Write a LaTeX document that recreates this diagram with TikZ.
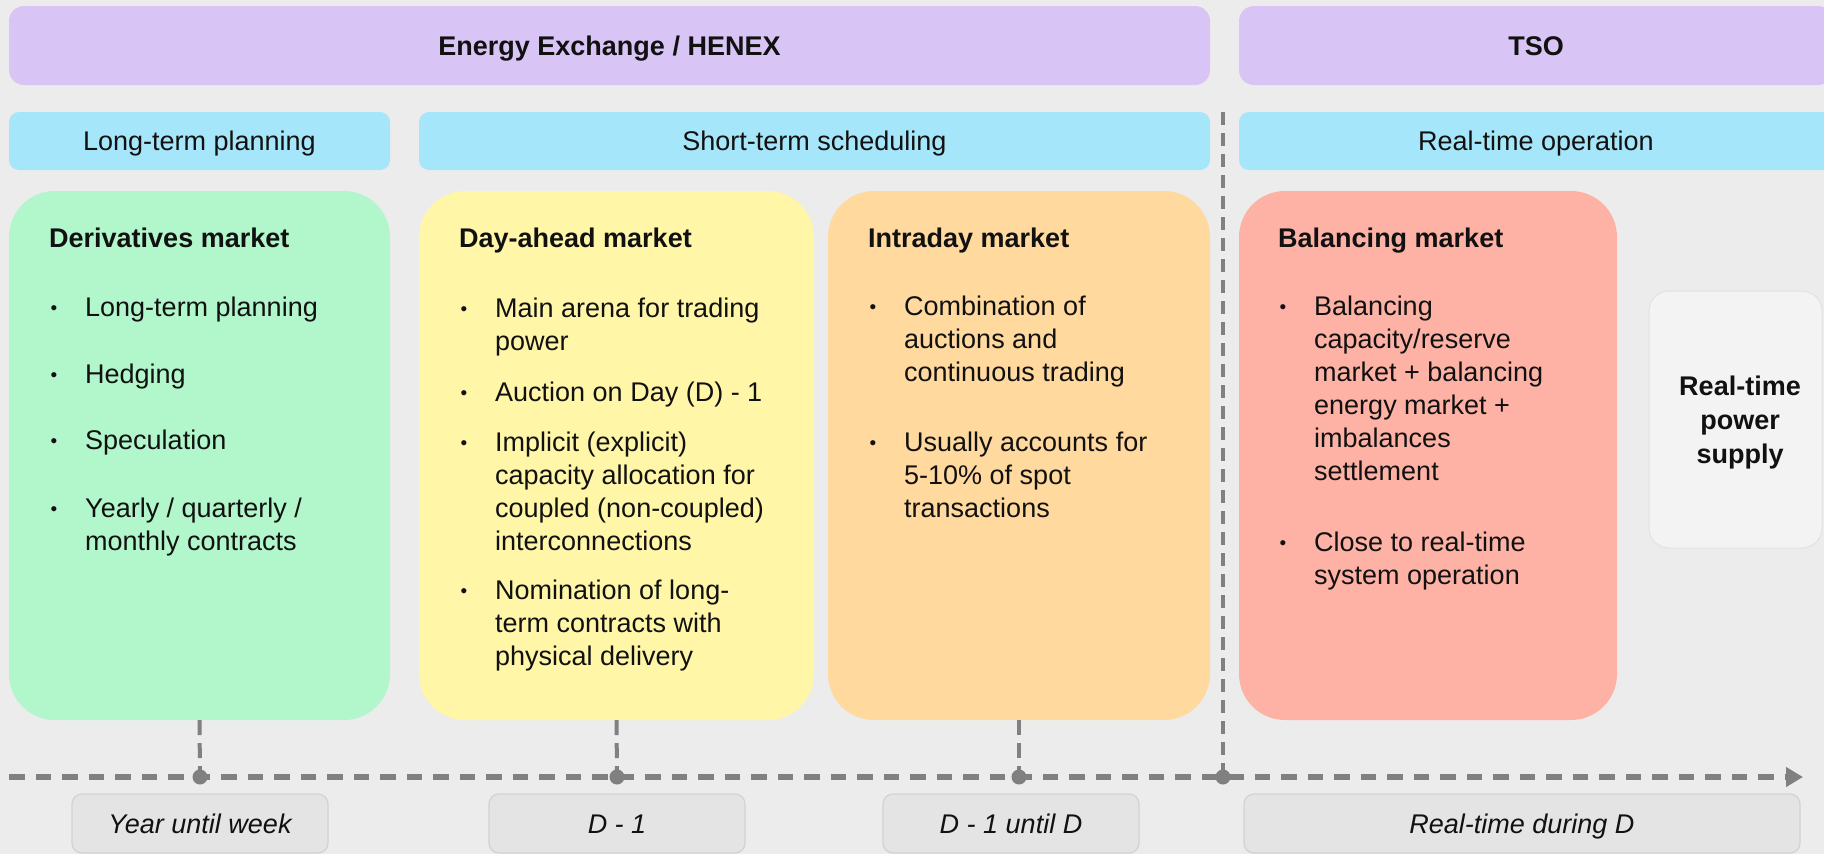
\documentclass[tikz,border=0pt]{standalone}
\usepackage{fontspec}
\setmainfont{Liberation Sans}
\usetikzlibrary{arrows.meta}
\definecolor{bgc}{RGB}{236,236,236}
\definecolor{purp}{RGB}{217,196,246}
\definecolor{cyanb}{RGB}{166,230,250}
\definecolor{greenc}{RGB}{178,246,203}
\definecolor{yellowc}{RGB}{255,246,168}
\definecolor{orangec}{RGB}{255,217,158}
\definecolor{salmonc}{RGB}{253,178,165}
\definecolor{rtfill}{RGB}{243,243,243}
\definecolor{rtline}{RGB}{226,226,226}
\definecolor{boxfill}{RGB}{228,228,228}
\definecolor{boxline}{RGB}{210,210,210}
\definecolor{lgray}{RGB}{128,128,128}
\definecolor{ink}{RGB}{17,17,17}
\newcommand\bodyfont{\fontsize{27}{33}\selectfont}
\newcommand\bulletmark{\makebox[36pt][l]{\hspace*{1.5pt}\raisebox{2.2pt}{\fontsize{19}{19}\selectfont •}}}
\newcommand\contind{\hspace*{36pt}}
\begin{document}
\begin{tikzpicture}[x=1pt,y=-1pt,
  every node/.style={text=ink},
  bar/.style={inner sep=0pt, text height=19.5pt, text depth=0pt, font=\bodyfont},
  topbar/.style={bar, fill=purp, rounded corners=15pt, font=\bodyfont\bfseries},
  phase/.style={bar, fill=cyanb, rounded corners=10pt},
  card/.style={inner sep=0pt, rounded corners=46pt},
  head/.style={anchor=base west, inner sep=0pt, font=\bodyfont\bfseries},
  itm/.style={anchor=north west, inner sep=0pt, align=left, font=\bodyfont},
  rtbox/.style={inner sep=0pt, fill=rtfill, draw=rtline, line width=1pt, rounded corners=20pt},
  tbox/.style={bar, fill=boxfill, draw=boxline, line width=1.2pt, rounded corners=10pt, font=\bodyfont\itshape},
  dotn/.style={circle, fill=lgray, inner sep=0pt, minimum size=15pt},
  tline/.style={draw=lgray, line width=5.5pt, dash pattern=on 15.5pt off 11pt},
  tick/.style={draw=lgray, line width=4pt, dash pattern=on 15pt off 8pt},
  vline/.style={draw=lgray, line width=4.5pt, dash pattern=on 13pt off 8pt}
]
\useasboundingbox (0,0) rectangle (1824,854);
\clip (0,0) rectangle (1824,854);
\fill[bgc] (0,0) rectangle (1824,854);

% top bars
\node[topbar, minimum width=1201pt, minimum height=79pt] (ex) at (609.5,45.5) {Energy Exchange / HENEX};
\node[topbar, minimum width=594pt, minimum height=79pt] (tso) at (1536,45.5) {TSO};

% phase bars
\node[phase, minimum width=381pt, minimum height=58pt] (ltp) at (199.5,141) {Long-term planning};
\node[phase, minimum width=791pt, minimum height=58pt] (sts) at (814.5,141) {Short-term scheduling};
\node[phase, minimum width=594pt, minimum height=58pt] (rto) at (1536,141) {Real-time operation};

% cards
\node[card, fill=greenc, minimum width=381pt, minimum height=529pt] (der) at (199.5,455.5) {};
\node[card, fill=yellowc, minimum width=395pt, minimum height=529pt] (dam) at (616.5,455.5) {};
\node[card, fill=orangec, minimum width=382pt, minimum height=529pt] (idm) at (1019,455.5) {};
\node[card, fill=salmonc, minimum width=378pt, minimum height=529pt] (bal) at (1428,455.5) {};

% derivatives
\node[head] (derh) at (49,247) {Derivatives market};
\node[itm] (der1) at (49,293) {\strut\bulletmark Long-term planning};
\node[itm] (der2) at (49,360) {\strut\bulletmark Hedging};
\node[itm] (der3) at (49,426) {\strut\bulletmark Speculation};
\node[itm] (der4) at (49,494) {\strut\bulletmark Yearly / quarterly /\\\contind monthly contracts};

% day-ahead
\node[head] (damh) at (459,247) {Day-ahead market};
\node[itm] (dam1) at (459,294) {\strut\bulletmark Main arena for trading\\\contind power};
\node[itm] (dam2) at (459,378) {\strut\bulletmark Auction on Day (D) - 1};
\node[itm] (dam3) at (459,428) {\strut\bulletmark Implicit (explicit)\\\contind capacity allocation for\\\contind coupled (non-coupled)\\\contind interconnections};
\node[itm] (dam4) at (459,576) {\strut\bulletmark Nomination of long-\\\contind term contracts with\\\contind physical delivery};

% intraday
\node[head] (idmh) at (868,247) {Intraday market};
\node[itm] (idm1) at (868,292) {\strut\bulletmark Combination of\\\contind auctions and\\\contind continuous trading};
\node[itm] (idm2) at (868,428) {\strut\bulletmark Usually accounts for\\\contind 5-10\% of spot\\\contind transactions};

% balancing
\node[head] (balh) at (1278,247) {Balancing market};
\node[itm] (bal1) at (1278,292) {\strut\bulletmark Balancing\\\contind capacity/reserve\\\contind market + balancing\\\contind energy market +\\\contind imbalances\\\contind settlement};
\node[itm] (bal2) at (1278,528) {\strut\bulletmark Close to real-time\\\contind system operation};

% real-time power supply
\node[rtbox, minimum width=173pt, minimum height=257pt] (rt) at (1735.5,419.5) {};
\node[inner sep=0pt, align=center, font=\fontsize{27}{34}\selectfont\bfseries] (rtt) at (1740,423) {Real-time\\power\\supply};

% timeline labels
\node[tbox, minimum width=256pt, minimum height=59pt] (l1) at (200,823.5) {Year until week};
\node[tbox, minimum width=256pt, minimum height=59pt] (l2) at (617,823.5) {D - 1};
\node[tbox, minimum width=256pt, minimum height=59pt] (l3) at (1011,823.5) {D - 1 until D};
\node[tbox, minimum width=556pt, minimum height=59pt] (l4) at (1522,823.5) {Real-time during D};

% timeline dots
\node[dotn] (t1) at (200,777) {};
\node[dotn] (t2) at (617,777) {};
\node[dotn] (t3) at (1019,777) {};
\node[dotn] (t4) at (1223,777) {};

\coordinate (tls) at (9,777);
\coordinate (tle) at (1803,777);
\coordinate (vtop) at (1223,112);

\draw[tline, -{Triangle[length=17pt,width=19pt]}] (tls) -- (tle);
\draw[tick] (der.south) -- (t1.center);
\draw[tick] (dam.south) -- (t2.center);
\draw[tick] (idm.south -| t3) -- (t3.center);
\draw[vline] (vtop) -- (t4.center);
\end{tikzpicture}
\end{document}
